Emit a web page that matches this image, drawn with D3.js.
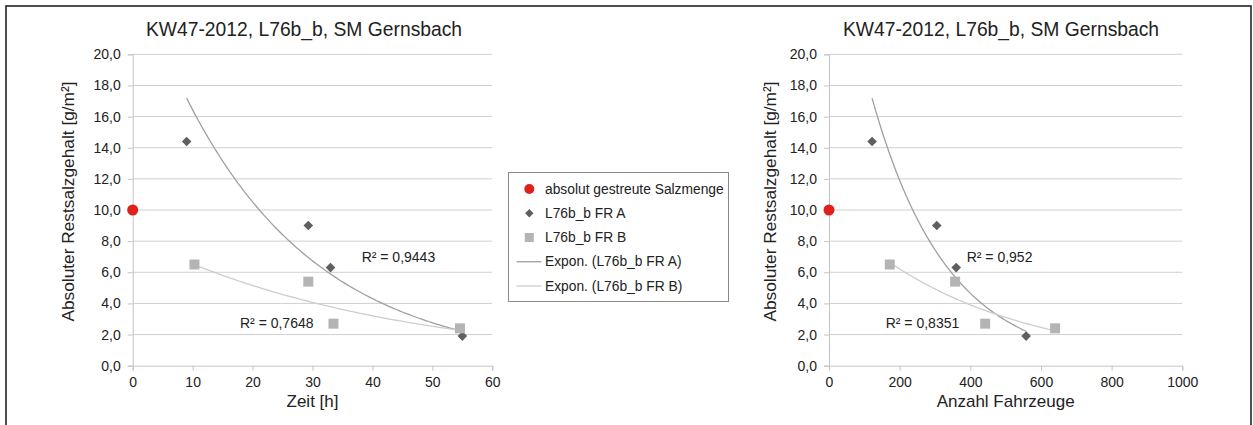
<!DOCTYPE html>
<html><head><meta charset="utf-8">
<script src="https://cdn.jsdelivr.net/npm/d3@7"></script>
<style>
html,body{margin:0;padding:0;background:#fff;}
text{font-family:"Liberation Sans",Arial,Helvetica,sans-serif;fill:#222;}
</style></head>
<body>
<svg id="c" width="1253" height="425"></svg>
<script>
// ---- data ----
const chartTitle = "KW47-2012, L76b_b, SM Gernsbach";
const yTitle = "Absoluter Restsalzgehalt [g/m²]";
const yTicks = [0, 2, 4, 6, 8, 10, 12, 14, 16, 18, 20];
const timeTicks = [0, 10, 20, 30, 40, 50, 60];
const vehTicks = [0, 200, 400, 600, 800, 1000];
const saltX = [0];
const saltVal = [10.0];
const timeA = [9.0, 29.3, 33.0, 55.0];
const valA = [14.4, 9.0, 6.3, 1.9];
const timeB = [10.3, 29.3, 33.5, 54.6];
const valB = [6.5, 5.4, 2.7, 2.4];
const vehA = [122, 305, 360, 558];
const vehB = [172, 357, 442, 640];
const r2Time = ["R² = 0,9443", "R² = 0,7648"];
const r2Veh = ["R² = 0,952", "R² = 0,8351"];
const legendLabels = ["absolut gestreute Salzmenge", "L76b_b FR A", "L76b_b FR B", "Expon. (L76b_b FR A)", "Expon. (L76b_b FR B)"];

const svg = d3.select("#c");
svg.append("rect").attr("x",0).attr("y",0).attr("width",1253).attr("height",425).attr("fill","#fff");
svg.append("rect").attr("x",6).attr("y",6).attr("width",1245).attr("height",430)
  .attr("fill","none").attr("stroke","#222").attr("stroke-width",1.6);

const COL_A = "#5f5f5f", COL_B = "#b4b4b4", COL_RED = "#e0201a";
const TR_A = "#a0a0a0", TR_B = "#cdcdcd";

function expFit(xs, ys){
  const n = xs.length, ly = ys.map(Math.log);
  const mx = d3.mean(xs), my = d3.mean(ly);
  let sxy=0, sxx=0;
  for(let i=0;i<n;i++){ sxy += (xs[i]-mx)*(ly[i]-my); sxx += (xs[i]-mx)**2; }
  const b = sxy/sxx, a = Math.exp(my - b*mx);
  return x => a*Math.exp(b*x);
}

function drawChart(opt){
  const g = svg.append("g");
  const x = d3.scaleLinear().domain(opt.xDomain).range([opt.left, opt.right]);
  const y = d3.scaleLinear().domain([0,20]).range([365.7, 54.3]);

  // gridlines
  g.append("g").selectAll("line").data(yTicks.filter(d=>d>0)).join("line")
    .attr("x1",opt.left).attr("x2",opt.right).attr("y1",d=>y(d)).attr("y2",d=>y(d))
    .attr("stroke","#d0d0d0").attr("stroke-width",1);

  // y axis
  const ya = g.append("g").attr("transform",`translate(${opt.left},0)`)
    .call(d3.axisLeft(y).tickValues(yTicks).tickSize(5).tickPadding(7)
      .tickFormat(d=>d3.format(".1f")(d).replace(".",",")));
  ya.select(".domain").attr("stroke","#c4c4c4");
  ya.selectAll(".tick line").attr("stroke","#c4c4c4");
  ya.selectAll(".tick text").attr("font-size",14).attr("font-family","Liberation Sans, Arial, sans-serif").attr("fill","#222");

  // x axis
  const xa = g.append("g").attr("transform",`translate(0,${y(0)})`)
    .call(d3.axisBottom(x).tickValues(opt.xTicks).tickSize(5).tickPadding(6).tickFormat(d3.format("d")));
  xa.select(".domain").attr("stroke","#c4c4c4");
  xa.selectAll(".tick line").attr("stroke","#c4c4c4");
  xa.selectAll(".tick text").attr("font-size",14).attr("font-family","Liberation Sans, Arial, sans-serif").attr("fill","#222");

  // titles
  g.append("text").attr("x",opt.titleX).attr("y",36).attr("text-anchor","middle")
    .attr("font-size",19.3).text(chartTitle);
  g.append("text").attr("x",(opt.left+opt.right)/2 + opt.xTitleDx).attr("y",407).attr("text-anchor","middle")
    .attr("font-size",17).text(opt.xTitle);
  g.append("text").attr("transform",`translate(${opt.yTitleX},201.5) rotate(-90)`)
    .attr("text-anchor","middle").attr("dominant-baseline","central")
    .attr("font-size",17.3).text(yTitle);

  // trend lines
  const line = d3.line().x(d=>x(d[0])).y(d=>y(d[1]));
  [[opt.xa, valA, TR_A],[opt.xb, valB, TR_B]].forEach(([xs, ys, col])=>{
    const f = expFit(xs, ys);
    const x0 = d3.min(xs), x1 = d3.max(xs);
    const pts = d3.range(0,101).map(i=>{ const xv = x0 + (x1-x0)*i/100; return [xv, f(xv)]; });
    g.append("path").attr("d",line(pts)).attr("fill","none").attr("stroke",col).attr("stroke-width",1.3);
  });

  // red
  g.append("g").selectAll("circle").data(saltX.map((d,i)=>[d,saltVal[i]])).join("circle")
    .attr("cx",d=>x(d[0])).attr("cy",d=>y(d[1])).attr("r",5.5).attr("fill",COL_RED);
  // diamonds FR A
  g.append("g").selectAll("path").data(opt.xa.map((d,i)=>[d,valA[i]])).join("path")
    .attr("d",d=>{const cx=x(d[0]), cy=y(d[1]), r=4.8; return `M${cx},${cy-r}L${cx+r},${cy}L${cx},${cy+r}L${cx-r},${cy}Z`;})
    .attr("fill",COL_A);
  // squares FR B
  g.append("g").selectAll("rect").data(opt.xb.map((d,i)=>[d,valB[i]])).join("rect")
    .attr("x",d=>x(d[0])-5).attr("y",d=>y(d[1])-5).attr("width",10).attr("height",10).attr("fill",COL_B);

  // R² labels
  g.append("text").attr("x",x(opt.r2Pos[0][0])).attr("y",y(opt.r2Pos[0][1])).attr("dominant-baseline","central")
    .attr("font-size",14).text(opt.r2[0]);
  g.append("text").attr("x",x(opt.r2Pos[1][0])).attr("y",y(opt.r2Pos[1][1])).attr("dominant-baseline","central")
    .attr("font-size",14).text(opt.r2[1]);
}

drawChart({left:132.7, right:492.3, xDomain:[0,60], xTicks:timeTicks, xTitle:"Zeit [h]", xTitleDx:0,
  titleX:304, yTitleX:68, xa:timeA, xb:timeB, r2:r2Time, r2Pos:[[38.2,7.0],[17.9,2.72]]});
drawChart({left:829, right:1182.3, xDomain:[0,1000], xTicks:vehTicks, xTitle:"Anzahl Fahrzeuge", xTitleDx:0,
  titleX:1001, yTitleX:770, xa:vehA, xb:vehB, r2:r2Veh, r2Pos:[[389.7,7.0],[160.5,2.72]]});

// legend
const lg = svg.append("g");
lg.append("rect").attr("x",508.5).attr("y",172.5).attr("width",220).attr("height",129)
  .attr("fill","#fff").attr("stroke","#8a8a8a").attr("stroke-width",1);
const rowY = d3.scalePoint().domain(legendLabels).range([189,286]);
legendLabels.forEach((lab,i)=>{
  const cy = rowY(lab), cx = 529.3;
  if(i===0) lg.append("circle").attr("cx",cx).attr("cy",cy).attr("r",5).attr("fill",COL_RED);
  if(i===1){const r=4.2; lg.append("path").attr("d",`M${cx},${cy-r}L${cx+r},${cy}L${cx},${cy+r}L${cx-r},${cy}Z`).attr("fill",COL_A);}
  if(i===2) lg.append("rect").attr("x",cx-4.5).attr("y",cy-4.5).attr("width",9).attr("height",9).attr("fill",COL_B);
  if(i===3) lg.append("line").attr("x1",516.5).attr("x2",541.5).attr("y1",cy).attr("y2",cy).attr("stroke",TR_A).attr("stroke-width",1.3);
  if(i===4) lg.append("line").attr("x1",516.5).attr("x2",541.5).attr("y1",cy).attr("y2",cy).attr("stroke",TR_B).attr("stroke-width",1.3);
  lg.append("text").attr("x",545).attr("y",cy).attr("dominant-baseline","central").attr("font-size",13.8).text(lab);
});
</script>
</body></html>
